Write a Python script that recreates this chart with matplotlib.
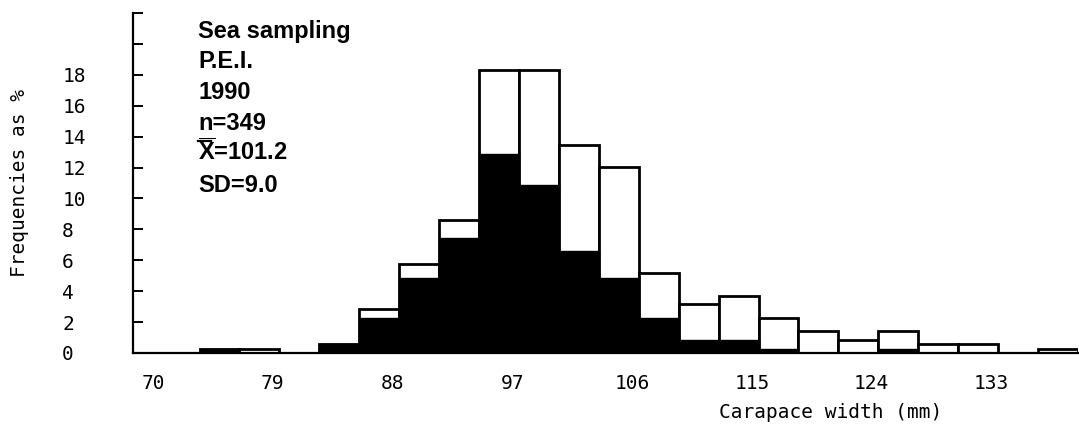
import matplotlib
matplotlib.use('Agg')
import matplotlib.pyplot as plt
from matplotlib.lines import Line2D

# bin centres (mm), 3 mm wide classes
bin_centres = [75, 78, 81, 84, 87, 90, 93, 96, 99, 102, 105,
               108, 111, 114, 117, 120, 123, 126, 129, 132, 135, 138]
# total frequency (%) - open bars
total_pct = [0.29, 0.29, 0.0, 0.57, 2.87, 5.73, 8.60, 18.34, 18.34, 13.47, 12.03,
             5.16, 3.15, 3.72, 2.29, 1.43, 0.86, 1.43, 0.57, 0.57, 0.0, 0.29]
# filled (black) part of each bar
black_pct = [0.29, 0.0, 0.0, 0.57, 2.29, 4.87, 7.45, 12.89, 10.89, 6.59, 4.87,
             2.29, 0.86, 0.86, 0.29, 0.0, 0.0, 0.29, 0.0, 0.0, 0.0, 0.0]
bin_width = 3

xticks = [70, 79, 88, 97, 106, 115, 124, 133]
yticks = list(range(0, 23, 2))
ytick_labels = [str(v) if v <= 18 else '' for v in yticks]

info_lines = ['Sea sampling', 'P.E.I.', '1990', 'n=349',
              r'$\overline{\mathbf{X}}$=101.2', 'SD=9.0']

plt.rcParams['mathtext.fontset'] = 'custom'
plt.rcParams['mathtext.rm'] = 'Liberation Sans'
plt.rcParams['mathtext.bf'] = 'Liberation Sans:bold'

W, H = 1079, 430
fig = plt.figure(figsize=(W / 100, H / 100), dpi=100)
ax = fig.add_axes([133 / W, 77 / H, 945 / W, 340 / H])

ax.bar(bin_centres, total_pct, width=bin_width, color='white',
       edgecolor='black', linewidth=2.0, zorder=2)
ax.bar(bin_centres, black_pct, width=bin_width, color='black',
       edgecolor='black', linewidth=1.0, zorder=3)

ax.set_xlim(68.5, 139.5)
ax.set_ylim(0, 22)

for s in ['top', 'right']:
    ax.spines[s].set_visible(False)
ax.spines['left'].set_linewidth(1.6)
ax.spines['bottom'].set_linewidth(1.6)

mono = 'DejaVu Sans Mono'
ax.set_yticks(yticks)
ax.set_yticklabels(ytick_labels, fontfamily=mono, fontsize=14, ha='left')
ax.tick_params(axis='y', direction='in', length=7, width=1.4, pad=51)
ax.set_xticks(xticks)
ax.set_xticklabels([str(v) for v in xticks], fontfamily=mono, fontsize=14)
ax.tick_params(axis='x', length=0, pad=15)

fig.text(20 / W, 1 - 183 / H, 'Frequencies as %', rotation=90,
         fontfamily=mono, fontsize=14, ha='center', va='center')
fig.text(831 / W, 1 - 413 / H, 'Carapace width (mm)',
         fontfamily=mono, fontsize=14, ha='center', va='center')

baselines = [38, 68, 99, 130, 160, 192]
for txt, b in zip(info_lines, baselines):
    fig.text(198 / W, 1 - b / H, txt, fontfamily='Liberation Sans',
             fontsize=17, fontweight='bold', ha='left', va='baseline')
# underline under "n"
fig.add_artist(Line2D([198 / W, 211 / W], [1 - 141 / H, 1 - 141 / H],
                      transform=fig.transFigure, color='black', linewidth=1.6))

fig.savefig('out.png', dpi=100)
